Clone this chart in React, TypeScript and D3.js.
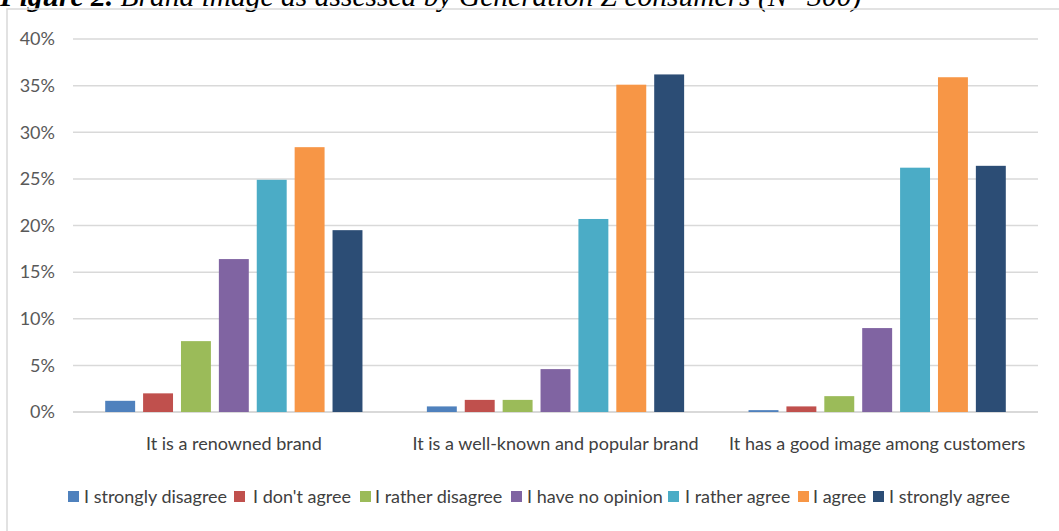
import React from "react";
import * as d3 from "d3";

const categories = [
  "It is a renowned brand",
  "It is a well-known and popular brand",
  "It has a good image among customers",
];
const seriesNames = [
  "I strongly disagree",
  "I don't agree",
  "I rather disagree",
  "I have no opinion",
  "I rather agree",
  "I agree",
  "I strongly agree",
];
const seriesColors = ["#4F81BD", "#C0504D", "#9BBB59", "#8064A2", "#4BACC6", "#F79646", "#2C4D75"];
// values per series, in order of categories (percent)
const strongDisagree = [1.2, 0.6, 0.2];
const dontAgree = [2.0, 1.3, 0.6];
const ratherDisagree = [7.6, 1.3, 1.7];
const noOpinion = [16.4, 4.6, 9.0];
const ratherAgree = [24.9, 20.7, 26.2];
const agree = [28.4, 35.1, 35.9];
const stronglyAgree = [19.5, 36.2, 26.4];
const seriesValues = [strongDisagree, dontAgree, ratherDisagree, noOpinion, ratherAgree, agree, stronglyAgree];
const yTicks = [0, 5, 10, 15, 20, 25, 30, 35, 40];
// legend layout (x of swatch, x of text)
const legendSwatchX = [68, 234, 360, 511, 668, 798, 873];
const legendTextX = [84, 253, 375, 527, 685, 813, 889];

const W = 1059;
const H = 531;
const FONT = "Lato, 'Open Sans', sans-serif";

export default function App() {
  const x0 = d3.scaleBand<string>().domain(categories).range([73, 1038]).padding(0);
  const x1 = d3
    .scaleBand<string>()
    .domain(seriesNames)
    .range([0, x0.bandwidth()])
    .paddingInner(0.21)
    .paddingOuter(0.85);
  const y = d3.scaleLinear().domain([0, 40]).range([412, 39]);

  return (
    <svg width={W} height={H} style={{ position: "absolute", left: 0, top: 0, background: "#fff" }}>
      <rect x={0} y={0} width={W} height={H} fill="#fff" />
      {/* title (cropped at the top, as in the source) */}
      <text x={0} y={6} fontFamily="'Liberation Serif', 'Times New Roman', serif" fontSize={29.5} fill="#000">
        <tspan fontWeight="bold" fontStyle="italic">Figure 2.</tspan>
        <tspan fontStyle="italic"> Brand image as assessed by Generation Z consumers (N=300)</tspan>
      </text>
      {/* chart border */}
      <rect x={7} y={9} width={W + 20} height={H + 20} fill="none" stroke="#D9D9D9" strokeWidth={1.5} />
      {/* gridlines */}
      {yTicks.map((t) => (
        <line
          key={t}
          x1={73}
          x2={1038}
          y1={y(t)}
          y2={y(t)}
          stroke="#D9D9D9"
          strokeWidth={t === 0 ? 2 : 1.5}
        />
      ))}
      {yTicks.map((t) => (
        <text
          key={"l" + t}
          x={55}
          y={y(t)}
          dy="0.35em"
          textAnchor="end"
          fontFamily={FONT}
          fontSize={18}
          fill="#595959"
        >
          {t}%
        </text>
      ))}
      {/* bars */}
      {categories.map((c, ci) => (
        <g key={c} transform={`translate(${x0(c)},0)`}>
          {seriesNames.map((s, si) => {
            const v = seriesValues[si][ci];
            return (
              <rect
                key={s}
                x={x1(s)}
                y={y(v)}
                width={x1.bandwidth()}
                height={y(0) - y(v)}
                fill={seriesColors[si]}
              />
            );
          })}
        </g>
      ))}
      {/* category labels */}
      {categories.map((c) => (
        <text
          key={"c" + c}
          x={(x0(c) as number) + x0.bandwidth() / 2}
          y={450}
          textAnchor="middle"
          fontFamily={FONT}
          fontSize={18}
          fill="#404040"
        >
          {c}
        </text>
      ))}
      {/* legend */}
      {seriesNames.map((s, i) => (
        <g key={"lg" + s}>
          <rect x={legendSwatchX[i]} y={491} width={11} height={11} fill={seriesColors[i]} />
          <text x={legendTextX[i]} y={503} fontFamily={FONT} fontSize={18} fill="#404040">
            {s}
          </text>
        </g>
      ))}
    </svg>
  );
}
